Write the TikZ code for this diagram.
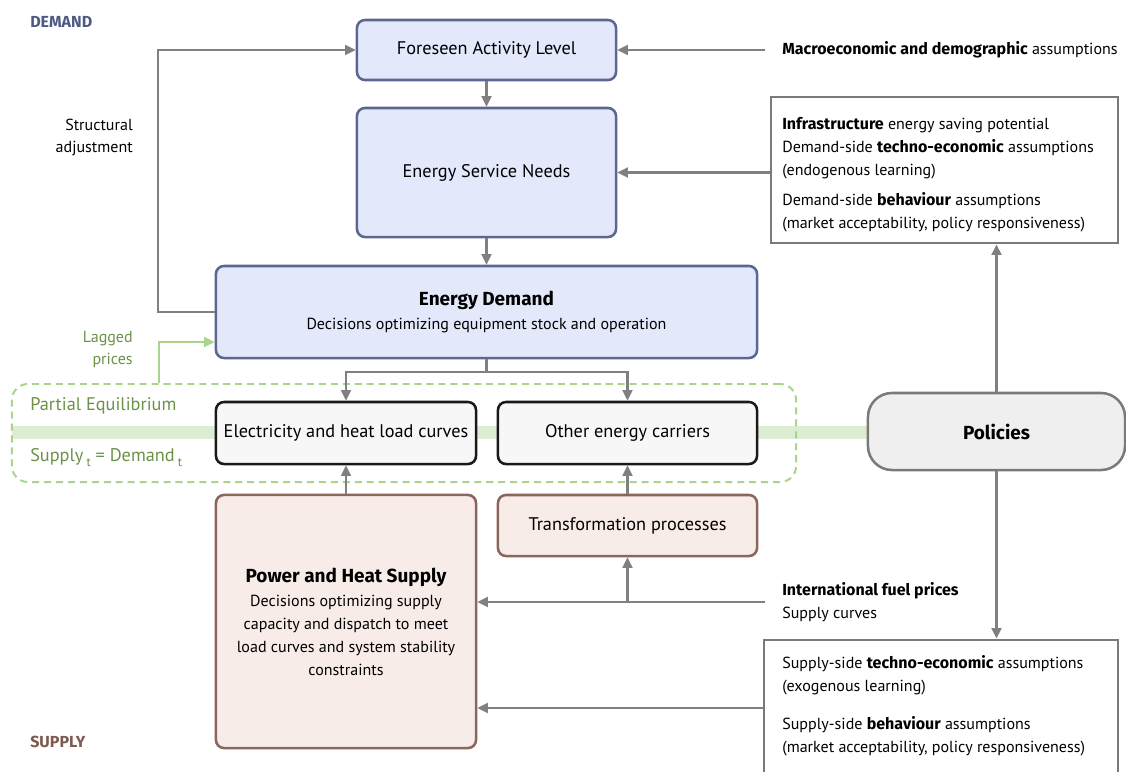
\documentclass[tikz,border=0pt]{standalone}
\usepackage{fontspec}
\setmainfont{PT Sans}[BoldFont={Fira Sans Bold}]
\usepackage{tikz}
\usetikzlibrary{arrows.meta}

\definecolor{dmdfill}{HTML}{E3E8FB}
\definecolor{dmdline}{HTML}{5B6790}
\definecolor{supfill}{HTML}{F8ECE8}
\definecolor{supline}{HTML}{8A665C}
\definecolor{neufill}{HTML}{F7F7F7}
\definecolor{polfill}{HTML}{EFEFEF}
\definecolor{flowgray}{HTML}{808080}
\definecolor{pegreen}{HTML}{A8D48C}
\definecolor{peband}{HTML}{DDEDD3}
\definecolor{petext}{HTML}{6B9147}
\definecolor{dmdtitle}{HTML}{4E5A82}
\definecolor{suptitle}{HTML}{7C5A50}

\newcommand{\bodyfont}{\fontsize{11.4}{16.3}\selectfont}
\newcommand{\labelfont}{\fontsize{13}{16.3}\selectfont}
\newcommand{\titlefont}{\fontsize{13.5}{16.3}\selectfont\bfseries}

\tikzset{
    box/.style={rounded corners=0.2cm, line width=1.8pt, align=center, inner sep=2pt, font=\labelfont},
    dmdbox/.style={box, draw=dmdline, fill=dmdfill},
    supbox/.style={box, draw=supline, fill=supfill},
    neubox/.style={box, draw=black!90, fill=neufill},
    polbox/.style={box, rounded corners=0.6cm, draw=flowgray!95!black, fill=polfill},
    assumbox/.style={draw=flowgray!95!black, line width=2pt, fill=white},
    assumtext/.style={anchor=north west, align=left, inner sep=0pt},
    extnote/.style={anchor=west, align=left, inner xsep=0.425cm, inner ysep=0pt},
    sidenote/.style={anchor=east, align=right, inner sep=0pt},
    flow/.style={draw=flowgray, line width=1.6pt, -{Triangle[length=7.5pt,width=7pt]}},
    lagflow/.style={flow, draw=pegreen},
    pebox/.style={draw=pegreen, line width=1.4pt, dash pattern=on 5pt off 3.5pt, rounded corners=0.4cm},
}

\begin{document}
\begin{tikzpicture}[x=0.025cm, y=-0.025cm, font=\bodyfont]
\useasboundingbox (0,0) rectangle (1126,771);

% partial equilibrium band and frame
\fill[peband] (12,426) rectangle (868,439);
\node[pebox, minimum width=19.6cm, minimum height=2.45cm] (pe) at (404,433) {};

% demand side
\node[dmdbox, minimum width=6.475cm, minimum height=1.5cm] (fal) at (486.5,50) {Foreseen Activity Level};
\node[dmdbox, minimum width=6.475cm, minimum height=3.225cm] (esn) at (486.5,172.5) {Energy Service Needs};
\node[dmdbox, font=\bodyfont, minimum width=13.525cm, minimum height=2.3cm] (ed) at (486.5,312)
    {{\titlefont Energy Demand}\\[1pt]Decisions optimizing equipment stock and operation};

% carriers
\node[neubox, minimum width=6.5cm, minimum height=1.55cm] (elc) at (346,433) {Electricity and heat load curves};
\node[neubox, minimum width=6.475cm, minimum height=1.55cm] (oec) at (627.5,433) {Other energy carriers};

% supply side
\node[supbox, minimum width=6.475cm, minimum height=1.525cm] (trp) at (627.5,525.5) {Transformation processes};
\node[supbox, font=\bodyfont, minimum width=6.5cm, minimum height=6.325cm] (phs) at (346,621.5)
    {{\titlefont Power and Heat Supply}\\[1pt]Decisions optimizing supply\\capacity and dispatch to meet\\load curves and system stability\\constraints};

% policies and assumptions
\node[polbox, minimum width=6.425cm, minimum height=1.925cm] (pol) at (996.5,431.5) {\titlefont Policies};
\node[assumbox, minimum width=8.675cm, minimum height=3.65cm] (dab) at (944.5,170) {};
\node[assumtext] (dat) at (782,117)
    {\textbf{Infrastructure} energy saving potential\\Demand-side \textbf{techno-economic} assumptions\\(endogenous learning)\\[5pt]Demand-side \textbf{behaviour} assumptions\\(market acceptability, policy responsiveness)};
\node[assumbox, minimum width=8.85cm, minimum height=3.4cm] (sab) at (941,708) {};
\node[assumtext] (sat) at (782,655)
    {Supply-side \textbf{techno-economic} assumptions\\(exogenous learning)\\[11pt]Supply-side \textbf{behaviour} assumptions\\(market acceptability, policy responsiveness)};
\node[extnote] (mda) at (765,50) {\textbf{Macroeconomic and demographic} assumptions};
\node[extnote] (ifp) at (765,602) {\textbf{International fuel prices}\\Supply curves};

% labels
\node[anchor=west, inner sep=0pt, text=dmdtitle] (dlab) at (30,22) {\textbf{DEMAND}};
\node[anchor=west, inner sep=0pt, text=suptitle] (slab) at (30,742) {\textbf{SUPPLY}};
\node[sidenote] (sadj) at (133,137.5) {Structural\\adjustment};
\node[sidenote, text=petext] (lagp) at (133,349.5) {Lagged\\prices};
\node[anchor=west, inner sep=0pt, text=petext, font=\labelfont] (pel) at (30,406) {Partial Equilibrium};
\node[anchor=west, inner sep=0pt, text=petext, font=\labelfont] (sdl) at (30,458)
    {Supply\,\raisebox{-3.5pt}{\small t} = Demand\,\raisebox{-3.5pt}{\small t}};

\coordinate (split) at (486.5,372);
\coordinate (lag) at (159,342);

% connectors
\draw[flow] (mda.west) -- (fal.east);
\draw[flow] (fal.south) -- (esn.north);
\draw[flow] (esn.south) -- (ed.north);
\draw[flow] (dab.west |- esn.east) -- (esn.east);
\draw[flow] (ed.west) -- ++(-57,0) |- (fal.west);
\draw[lagflow] (pe.north -| lag) |- (ed.west |- lag);
\draw[flow] (ed.south) -- (split) -| (elc.north);
\draw[flow] (split) -| (oec.north);
\draw[flow] (phs.north) -- (elc.south);
\draw[flow] (trp.north) -- (oec.south);
\draw[flow] (ifp.west) -- (ifp.west -| phs.east);
\draw[flow] (ifp.west -| trp.south) -- (trp.south);
\draw[flow] (sab.west) -- (sab.west -| phs.east);
\draw[flow] (pol.north) -- (pol.north |- dab.south);
\draw[flow] (pol.south) -- (pol.south |- sab.north);
\end{tikzpicture}
\end{document}
